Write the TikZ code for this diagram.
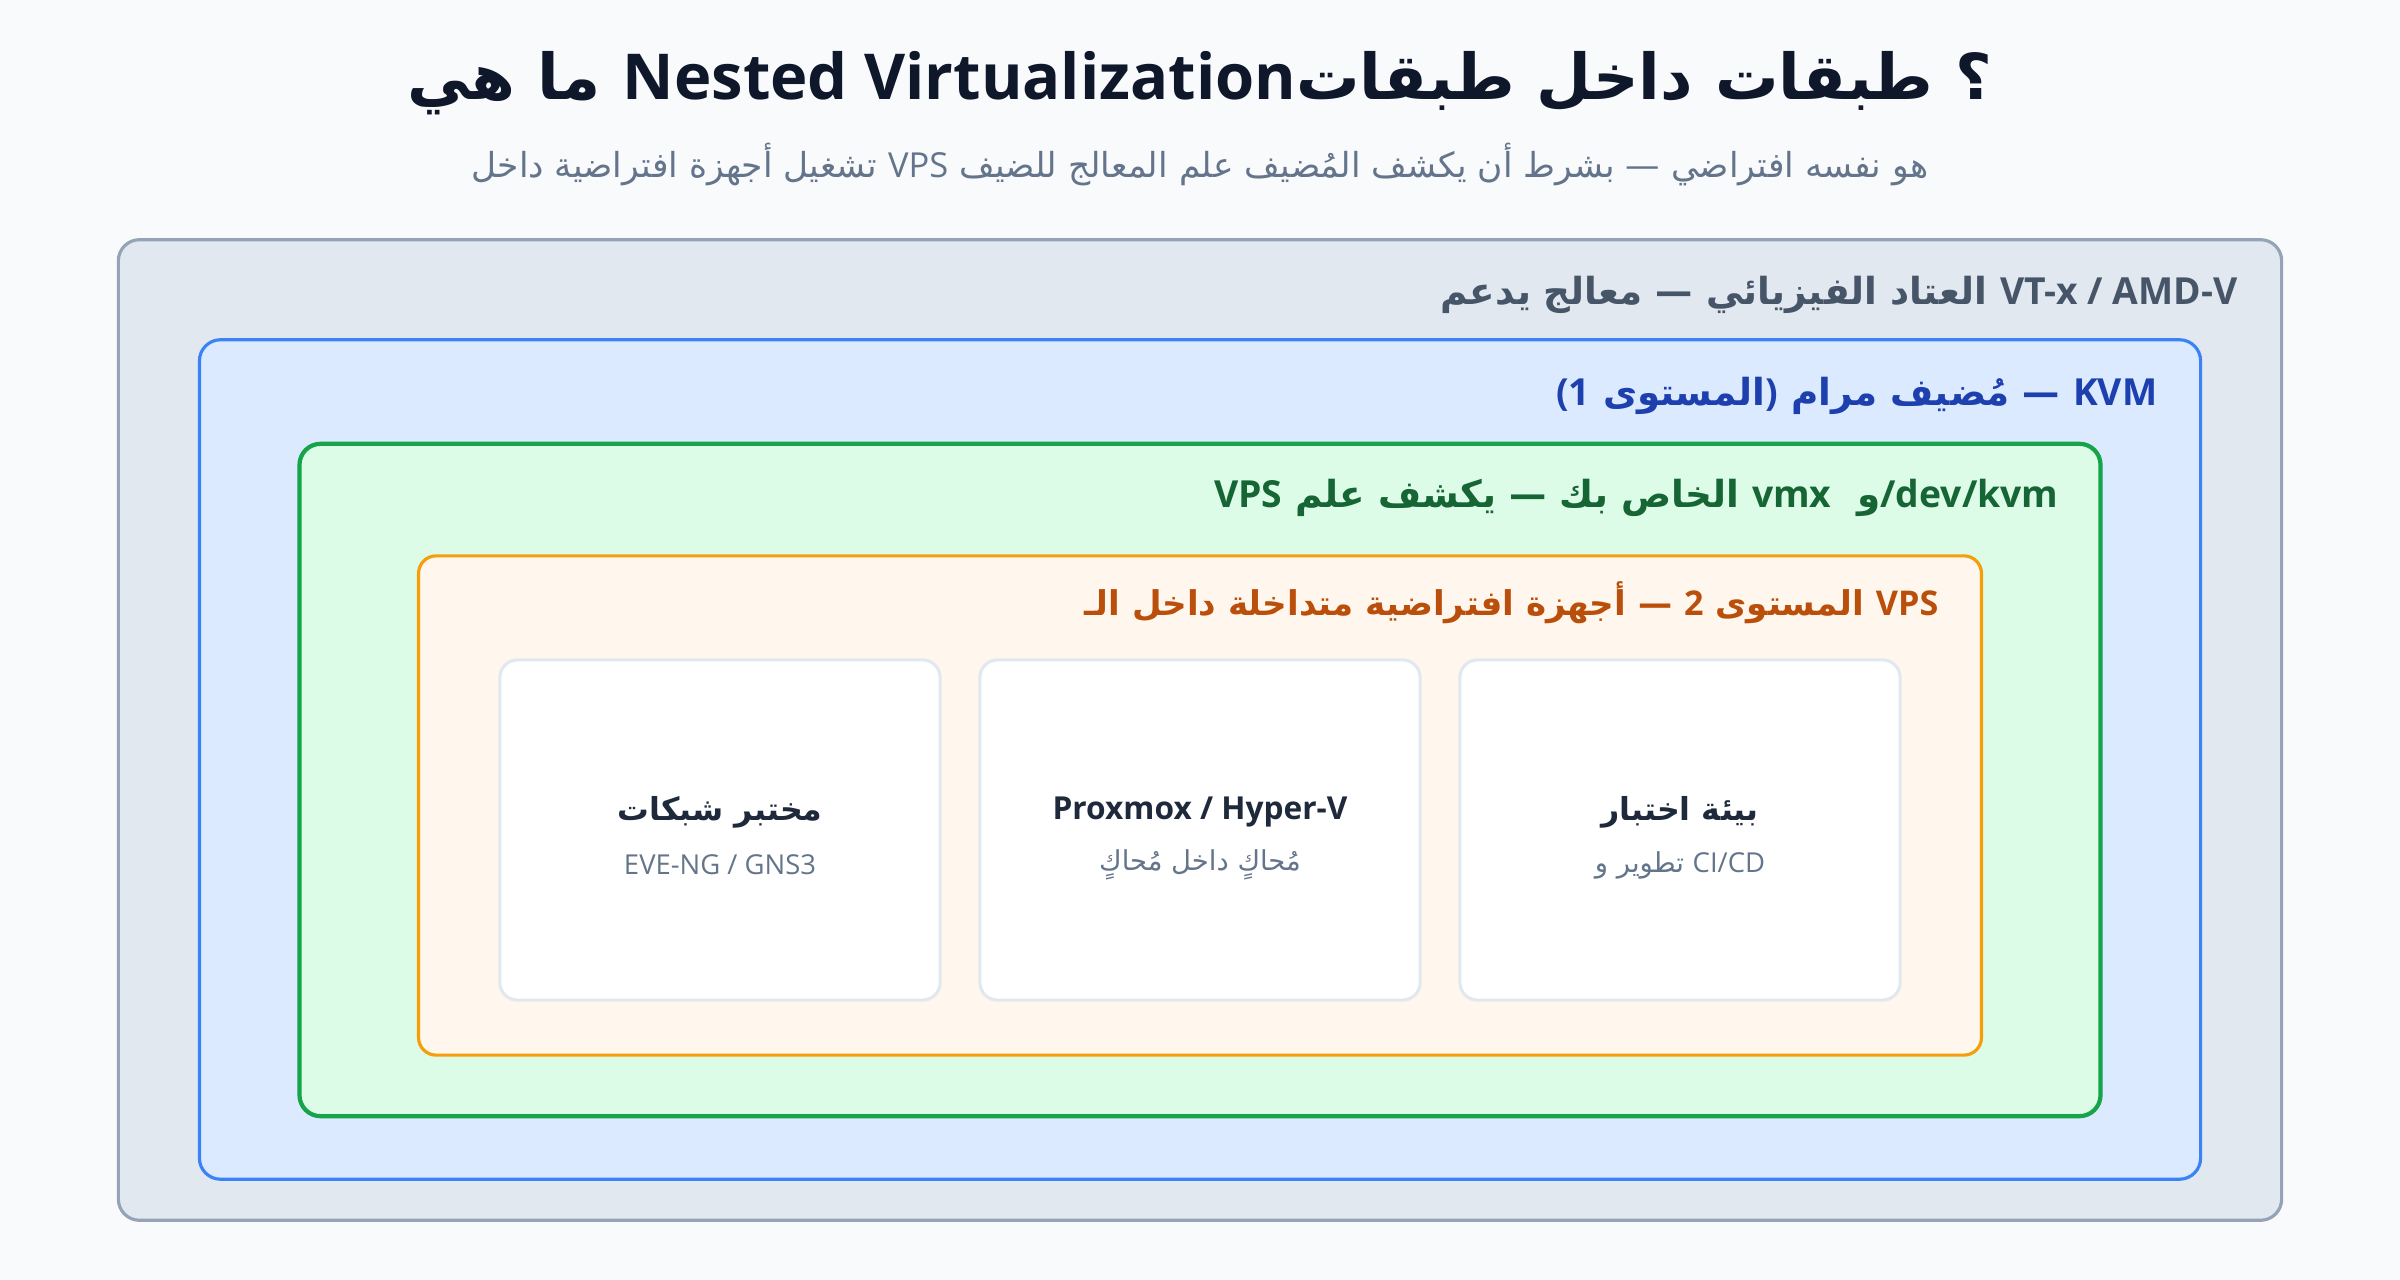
\documentclass[tikz,border=0pt]{standalone}
\usepackage{fontspec}
\setmainfont{Open Sans}
\newfontfamily\arabicfont[Script=Arabic]{DejaVu Sans}
\newfontfamily\latinfont{Open Sans}
\TeXXeTstate=1
\newcommand\lat[1]{\beginL{\latinfont #1}\endL}
\definecolor{bgc}{HTML}{F8FAFC}
\definecolor{titlec}{HTML}{0F172A}
\definecolor{subc}{HTML}{64748B}
\definecolor{hwfill}{HTML}{E2E8F0}
\definecolor{hwdraw}{HTML}{94A3B8}
\definecolor{hwtext}{HTML}{475569}
\definecolor{kvmfill}{HTML}{DBEAFE}
\definecolor{kvmdraw}{HTML}{3B82F6}
\definecolor{kvmtext}{HTML}{1E40AF}
\definecolor{vpsfill}{HTML}{DCFCE7}
\definecolor{vpsdraw}{HTML}{16A34A}
\definecolor{vpstext}{HTML}{166534}
\definecolor{nestfill}{HTML}{FFF7ED}
\definecolor{nestdraw}{HTML}{F59E0B}
\definecolor{nesttext}{HTML}{BA4F0B}
\definecolor{carddraw}{HTML}{E2E8F0}
\definecolor{cardtitle}{HTML}{1E293B}
\tikzset{
  layer/.style={rounded corners=6pt, inner sep=0pt},
  layerlabel/.style={anchor=east, inner sep=0pt, font=\arabicfont\bfseries\fontsize{10.6}{12}\selectfont},
  card/.style={draw=carddraw, fill=white, line width=0.9pt, rounded corners=5pt,
    minimum width=4.4cm, minimum height=3.4cm, inner sep=0pt},
  cardtitle/.style={inner sep=0pt, text=cardtitle, font=\arabicfont\bfseries\fontsize{9}{11}\selectfont},
  cardsub/.style={inner sep=0pt, text=subc, font=\arabicfont\fontsize{7.8}{9}\selectfont},
}
\begin{document}
\begin{tikzpicture}[x=0.01cm,y=-0.01cm]
\fill[bgc] (0,0) rectangle (2400,1280);
\useasboundingbox (0,0) rectangle (2400,1280);

\node[inner sep=0pt, text=titlec, font=\arabicfont\bfseries\fontsize{18}{22}\selectfont] (title) at (1200,83)
  {\beginR ؟ طبقات داخل طبقات\lat{Nested Virtualization} ما هي\endR};
\node[inner sep=0pt, text=subc, font=\arabicfont\fontsize{9.8}{11}\selectfont] (subtitle) at (1200,165)
  {\beginR هو نفسه افتراضي — بشرط أن يكشف المُضيف علم المعالج للضيف \lat{VPS} تشغيل أجهزة افتراضية داخل\endR};

\node[layer, draw=hwdraw, fill=hwfill, line width=0.9pt, minimum width=21.62cm, minimum height=9.8cm] (hw) at (1200,730) {};
\node[layer, draw=kvmdraw, fill=kvmfill, line width=0.9pt, minimum width=20cm, minimum height=8.39cm] (kvm) at (1200,759.5) {};
\node[layer, draw=vpsdraw, fill=vpsfill, line width=1.2pt, minimum width=18cm, minimum height=6.72cm] (vps) at (1200,780) {};
\node[layer, rounded corners=5pt, draw=nestdraw, fill=nestfill, line width=0.9pt, minimum width=15.62cm, minimum height=4.99cm] (nest) at (1200,805.5) {};

\node[layerlabel, text=hwtext] (hwlabel) at (2238,295)
  {\beginR\lat{VT-x / AMD-V} العتاد الفيزيائي — معالج يدعم\endR};
\node[layerlabel, text=kvmtext] (kvmlabel) at (2158,396)
  {\beginR\lat{KVM} — مُضيف مرام \lat{)}المستوى \lat{(1}\endR};
\node[layerlabel, text=vpstext] (vpslabel) at (2059,498)
  {\beginR\lat{/dev/kvm}و\ \ \lat{vmx} الخاص بك — يكشف علم \lat{VPS}\endR};
\node[layerlabel, text=nesttext, font=\arabicfont\bfseries\fontsize{9.7}{12}\selectfont] (nestlabel) at (1939,603)
  {\beginR\lat{VPS} المستوى \lat{2} — أجهزة افتراضية متداخلة داخل الـ\endR};

\node[card] (c1) at (720,830) {};
\node[card] (c2) at (1200,830) {};
\node[card] (c3) at (1680,830) {};

\node[cardtitle] (c1t) at (720,812) {\beginR مختبر شبكات\endR};
\node[cardsub] (c1s) at (720,865) {\lat{EVE-NG / GNS3}};
\node[cardtitle] (c2t) at (1200,812) {\lat{Proxmox / Hyper-V}};
\node[cardsub] (c2s) at (1200,865) {\beginR مُحاكٍ داخل مُحاكٍ\endR};
\node[cardtitle] (c3t) at (1680,812) {\beginR بيئة اختبار\endR};
\node[cardsub] (c3s) at (1680,865) {\beginR\lat{CI/CD} تطوير و\endR};
\end{tikzpicture}
\end{document}
